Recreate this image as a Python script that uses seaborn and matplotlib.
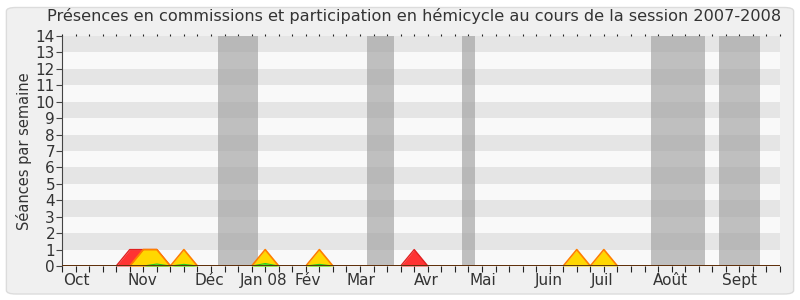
import numpy as np
import pandas as pd
import matplotlib
matplotlib.use("Agg")
import matplotlib.pyplot as plt
from matplotlib.patches import FancyBboxPatch
import seaborn as sns

# Weekly counts over the 2007-2008 session (week 0 = first week of October)
weeks = list(range(54))
commission = [0, 0, 0, 0, 0, 1, 1, 1, 0, 0, 0, 0, 0, 0, 0, 0, 0, 0, 0, 0,
              0, 0, 0, 0, 0, 0, 1, 0, 0, 0, 0, 0, 0, 0, 0, 0, 0, 0, 0, 0,
              0, 0, 0, 0, 0, 0, 0, 0, 0, 0, 0, 0, 0, 0]
hemicycle = [0, 0, 0, 0, 0, 0, 1, 1, 0, 1, 0, 0, 0, 0, 0, 1, 0, 0, 0, 1,
             0, 0, 0, 0, 0, 0, 0, 0, 0, 0, 0, 0, 0, 0, 0, 0, 0, 0, 1, 0,
             1, 0, 0, 0, 0, 0, 0, 0, 0, 0, 0, 0, 0, 0]
interventions = [0, 0, 0, 0, 0, 0, 0, 0.12, 0, 0.1, 0, 0, 0, 0, 0, 0.15, 0, 0, 0, 0.1,
                 0, 0, 0, 0, 0, 0, 0, 0, 0, 0, 0, 0, 0, 0, 0, 0, 0, 0, 0, 0,
                 0, 0, 0, 0, 0, 0, 0, 0, 0, 0, 0, 0, 0, 0]

# Parliamentary recess periods, as (first week, last week)
recess = [(12, 14), (23, 24), (30, 30), (44, 47), (49, 51)]

month_labels = ["Oct", "Nov", "Déc", "Jan 08", "Fév", "Mar", "Avr", "Mai",
                "Juin", "Juil", "Août", "Sept"]
month_pos = [1.08, 5.9, 10.9, 14.86, 18.1, 22.07, 26.9, 31.1, 35.9, 39.9, 44.9, 50.02]

df = pd.DataFrame({"semaine": weeks, "commission": commission,
                   "hemicycle": hemicycle, "interventions": interventions})

sns.set_theme(style="white")
plt.rcParams["font.family"] = ["DejaVu Sans"]

fig = plt.figure(figsize=(8, 3), dpi=100)
fig.patch.set_facecolor("white")
frame = FancyBboxPatch((0.008, 0.02), 0.984, 0.955,
                       boxstyle="round,pad=0,rounding_size=0.012",
                       transform=fig.transFigure, facecolor="#f0f0f0",
                       edgecolor="#dcdcdc", linewidth=1.0, zorder=-10)
fig.patches.append(frame)

ax = fig.add_axes([0.0775, 0.1133, 0.8975, 0.7667])
ax.set_facecolor("#f9f9f9")

ax.set_xlim(0, 53)
ax.set_ylim(0, 14)

# Horizontal alternating stripes
for k in range(1, 14, 2):
    ax.axhspan(k, k + 1, color="#e5e5e5", lw=0, zorder=0)

# Recess bands
for a, b in recess:
    ax.axvspan(a - 0.5, b + 0.5, color="#a0a0a0", alpha=0.65, lw=0, zorder=1)

# Areas: commission (red), hemicycle (yellow), interventions (green)
ax.fill_between(df["semaine"], df["commission"], color="#ff3333", lw=0, zorder=2)
sns.lineplot(data=df, x="semaine", y="commission", color="#e02020", lw=1,
             ax=ax, zorder=3)
ax.fill_between(df["semaine"], df["hemicycle"], color="#ffd700", lw=0, zorder=4)
sns.lineplot(data=df, x="semaine", y="hemicycle", color="#ff7f00", lw=1.2,
             ax=ax, zorder=5)
ax.fill_between(df["semaine"], df["interventions"], color="#33ee33", lw=0, zorder=6)
sns.lineplot(data=df, x="semaine", y="interventions", color="#22cc22", lw=0.8,
             ax=ax, zorder=7)
ax.axhline(0, color="#5a1a0a", lw=1.2, zorder=8)

for s in ["top", "right"]:
    ax.spines[s].set_visible(False)
ax.spines["left"].set_color("#444444")
ax.spines["left"].set_linewidth(0.8)
ax.spines["bottom"].set_visible(False)

ax.set_yticks(range(0, 15))
ax.set_yticklabels([str(v) for v in range(0, 15)], fontsize=11, color="#333333")
ax.tick_params(axis="y", left=True, length=4, width=0.8, color="#444444", pad=1)

ax.set_xticks(range(0, 54))
ax.set_xticklabels([])
ax.tick_params(axis="x", which="major", bottom=True, top=True, length=4,
               width=0.8, color="#222222", direction="out")
ax.xaxis.set_ticks_position("both")
for t in ax.xaxis.get_major_ticks():
    t.tick2line.set_markersize(1.5)
ax.set_xticks(month_pos, minor=True)
ax.set_xticklabels(month_labels, minor=True, fontsize=11, color="#333333")
ax.tick_params(axis="x", which="minor", length=0, pad=5)

ax.set_xlabel("")
ax.set_ylabel("Séances par semaine", fontsize=10.5, color="#333333", labelpad=3)

fig.text(0.517, 0.945, "Présences en commissions et participation en hémicycle au cours de la session 2007-2008",
         ha="center", va="center", fontsize=11.6, color="#333333")

fig.savefig("out.png", dpi=100)
